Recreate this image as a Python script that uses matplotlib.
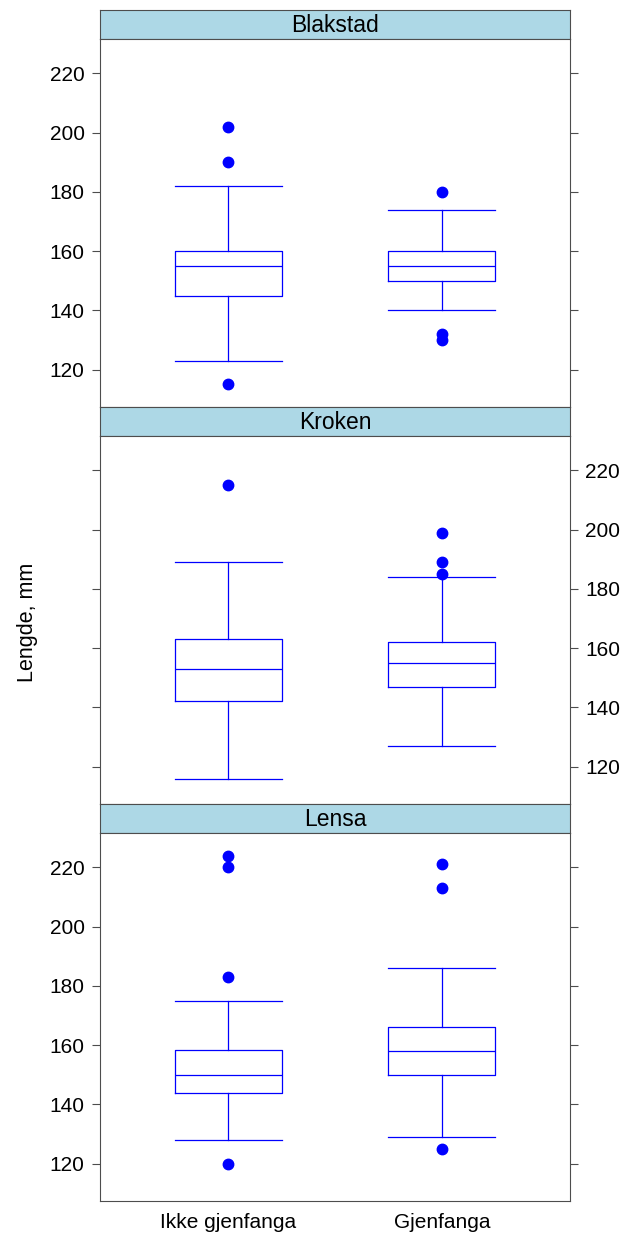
import matplotlib
matplotlib.use("Agg")
import matplotlib.pyplot as plt

plt.rcParams['font.family'] = ['Liberation Sans', 'DejaVu Sans']

# data (lengths in mm)
sites = ["Blakstad", "Kroken", "Lensa"]
groups = ["Ikke gjenfanga", "Gjenfanga"]

# per site: [Ikke gjenfanga, Gjenfanga]
whislo = [[123, 140], [116, 127], [128, 129]]
q1 = [[145, 150], [142, 147], [144, 150]]
med = [[155, 155], [153, 155], [150, 158]]
q3 = [[160, 160], [163, 162], [158.5, 166]]
whishi = [[182, 174], [189, 184], [175, 186]]
fliers = [
    [[115, 190, 202], [130, 132, 180]],
    [[215], [185, 189, 199]],
    [[120, 183, 220, 224], [125, 213, 221]],
]

yticks = [120, 140, 160, 180, 200, 220]
ylim = (107.4, 231.6)

W, H = 627, 1234
fig = plt.figure(figsize=(W / 100, H / 100), dpi=100)

left, right = 100, 570
strip_h = 29
panel_h = 368
top = 10
blue = '#0000ff'
border = '#4d4d4d'

for i, site in enumerate(sites):
    s_top = top + i * (strip_h + panel_h)
    p_top = s_top + strip_h

    # strip
    sax = fig.add_axes([left / W, 1 - p_top / H, (right - left) / W, strip_h / H])
    sax.set_facecolor('#add8e6')
    sax.set_xticks([])
    sax.set_yticks([])
    for sp in sax.spines.values():
        sp.set_color(border)
    sax.text(0.5, 0.48, site, ha='center', va='center', fontsize=16.5,
             transform=sax.transAxes)

    # panel
    ax = fig.add_axes([left / W, 1 - (p_top + panel_h) / H, (right - left) / W, panel_h / H])
    stats = []
    for j, g in enumerate(groups):
        stats.append(dict(label=g, whislo=whislo[i][j], q1=q1[i][j], med=med[i][j],
                          q3=q3[i][j], whishi=whishi[i][j], fliers=fliers[i][j]))
    ax.bxp(stats, positions=[1, 2], widths=0.5, capwidths=0.5, showfliers=True,
           boxprops=dict(color=blue, lw=0.9),
           medianprops=dict(color=blue, lw=0.9),
           whiskerprops=dict(color=blue, lw=0.9, linestyle='-'),
           capprops=dict(color=blue, lw=0.9),
           flierprops=dict(marker='o', markerfacecolor=blue, markeredgecolor=blue,
                           markersize=7.5, linestyle='none'))
    ax.set_xlim(0.4, 2.6)
    ax.set_ylim(*ylim)
    ax.set_yticks(yticks)
    for sp in ax.spines.values():
        sp.set_color(border)
    lab_left = (i % 2 == 0)
    ax.tick_params(axis='y', direction='out', length=6, width=0.8, color=border,
                   left=True, right=True, labelleft=lab_left, labelright=not lab_left,
                   labelsize=15, pad=5)
    if i == len(sites) - 1:
        ax.tick_params(axis='x', length=0, labelsize=15, pad=9)
        ax.set_xticks([1, 2], groups)
    else:
        ax.set_xticks([])

fig.text(27 / W, 1 - 622 / H, "Lengde, mm", rotation=90, ha='center', va='center',
         fontsize=15.5)

fig.savefig("out.png", dpi=100)
